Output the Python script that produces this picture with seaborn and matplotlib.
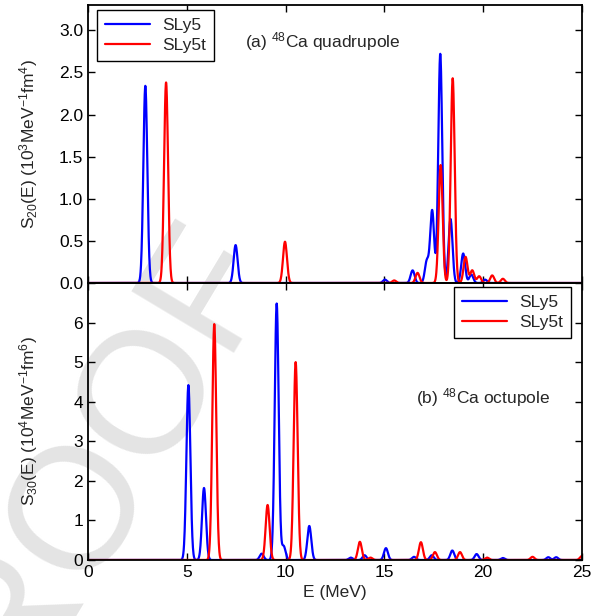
import numpy as np
import pandas as pd
import matplotlib
matplotlib.use("Agg")
import matplotlib.pyplot as plt
import seaborn as sns

# ---- data: peak energies (MeV) and peak heights ----
q_sly5_E = [2.90, 7.47, 15.03, 16.43, 17.15, 17.42, 17.83, 18.35, 18.99, 19.4, 20.1]
q_sly5_S = [2.34, 0.45, 0.04, 0.15, 0.26, 0.86, 2.72, 0.76, 0.35, 0.10, 0.04]
q_sly5t_E = [3.95, 9.97, 15.5, 16.68, 17.85, 18.46, 19.11, 19.45, 19.8, 20.46, 21.0]
q_sly5t_S = [2.38, 0.49, 0.03, 0.12, 1.40, 2.43, 0.31, 0.15, 0.08, 0.09, 0.05]

o_sly5_E = [5.08, 5.87, 8.79, 9.55, 9.90, 11.20, 13.3, 14.0, 15.08, 16.5, 17.4, 18.44,
            19.67, 21.0, 23.3, 23.7]
o_sly5_S = [4.42, 1.82, 0.16, 6.48, 0.35, 0.86, 0.06, 0.12, 0.30, 0.08, 0.12, 0.24,
            0.15, 0.05, 0.07, 0.07]
o_sly5t_E = [6.39, 9.09, 10.51, 13.76, 14.3, 16.85, 17.56, 18.83, 20.2, 22.5, 25.0]
o_sly5t_S = [5.96, 1.39, 5.00, 0.46, 0.06, 0.45, 0.20, 0.20, 0.06, 0.08, 0.10]

series_names = ["SLy5", "SLy5t"]
x_ticks = [0, 5, 10, 15, 20, 25]
q_yticks = [0.0, 0.5, 1.0, 1.5, 2.0, 2.5, 3.0]
o_yticks = [0, 1, 2, 3, 4, 5, 6]

E = np.linspace(0, 25, 2501)
sigma = 0.1


def fold(energies, strengths):
    s = np.zeros_like(E)
    for e0, h in zip(energies, strengths):
        s += h * np.exp(-0.5 * ((E - e0) / sigma) ** 2)
    return s


df_q = pd.concat([
    pd.DataFrame({"E": E, "S": fold(q_sly5_E, q_sly5_S), "model": "SLy5"}),
    pd.DataFrame({"E": E, "S": fold(q_sly5t_E, q_sly5t_S), "model": "SLy5t"}),
])
df_o = pd.concat([
    pd.DataFrame({"E": E, "S": fold(o_sly5_E, o_sly5_S), "model": "SLy5"}),
    pd.DataFrame({"E": E, "S": fold(o_sly5t_E, o_sly5t_S), "model": "SLy5t"}),
])

sns.set_style("ticks")
plt.rcParams["font.family"] = ["Liberation Sans", "DejaVu Sans"]
plt.rcParams["mathtext.fontset"] = "custom"
plt.rcParams["mathtext.rm"] = "Liberation Sans"
plt.rcParams["mathtext.it"] = "Liberation Sans"

FS = 12.5

fig = plt.figure(figsize=(6.03, 6.16), dpi=100)
fig.patch.set_facecolor("white")

# watermark
fig.text(0.13, 0.185, "PROOF", rotation=59, fontsize=125, color="#e4e4e4",
         ha="center", va="center", zorder=-5)

W = 0.965 - 0.146
ax1 = fig.add_axes([0.146, 0.5406, W, 0.4513])
ax2 = fig.add_axes([0.146, 0.0909, W, 0.4497])
palette = {"SLy5": "#0000ff", "SLy5t": "#ff0000"}

for ax, df in [(ax1, df_q), (ax2, df_o)]:
    ax.set_facecolor("none")
    sns.lineplot(data=df, x="E", y="S", hue="model", palette=palette,
                 hue_order=series_names, linewidth=1.6, ax=ax)
    ax.set_xlim(0, 25)
    ax.set_xticks(x_ticks)
    ax.tick_params(direction="in", top=True, right=True, length=5, width=1,
                   labelsize=FS, colors="black")
    for sp in ax.spines.values():
        sp.set_visible(True)
        sp.set_linewidth(1.3)
        sp.set_color("black")

ax1.set_ylim(0, 3.3)
ax1.set_yticks(q_yticks)
ax1.set_yticklabels([f"{v:.1f}" for v in q_yticks])
ax1.set_xticklabels([])
ax1.set_xlabel("")
ax1.set_ylabel(r"S$_{20}$(E) (10$^{3}$MeV$^{-1}$fm$^{4}$)", fontsize=FS)
ax1.text(0.318, 0.870, r"(a) $^{48}$Ca quadrupole", transform=ax1.transAxes,
         fontsize=FS, ha="left", va="center")

ax2.set_ylim(0, 7.0)
ax2.set_yticks(o_yticks)
ax2.set_xlabel("E (MeV)", fontsize=FS)
ax2.set_ylabel(r"S$_{30}$(E) (10$^{4}$MeV$^{-1}$fm$^{6}$)", fontsize=FS)
ax2.text(0.664, 0.585, r"(b) $^{48}$Ca octupole", transform=ax2.transAxes,
         fontsize=FS, ha="left", va="center")

ax1.yaxis.set_label_coords(-0.098, 0.5)
ax2.yaxis.set_label_coords(-0.098, 0.5)

for ax, loc, anchor in [(ax1, "upper left", (0.018, 0.982)),
                        (ax2, "upper right", (0.978, 0.986))]:
    h, l = ax.get_legend_handles_labels()
    leg = ax.legend(h, l, loc=loc, bbox_to_anchor=anchor, fontsize=FS,
                    frameon=True, fancybox=False, edgecolor="black",
                    handlelength=2.6, borderpad=0.45, labelspacing=0.3,
                    handletextpad=0.7, borderaxespad=0.0)
    leg.get_frame().set_linewidth(1.0)
    leg.get_frame().set_alpha(1)

fig.savefig("out.png", dpi=100, facecolor="white")
